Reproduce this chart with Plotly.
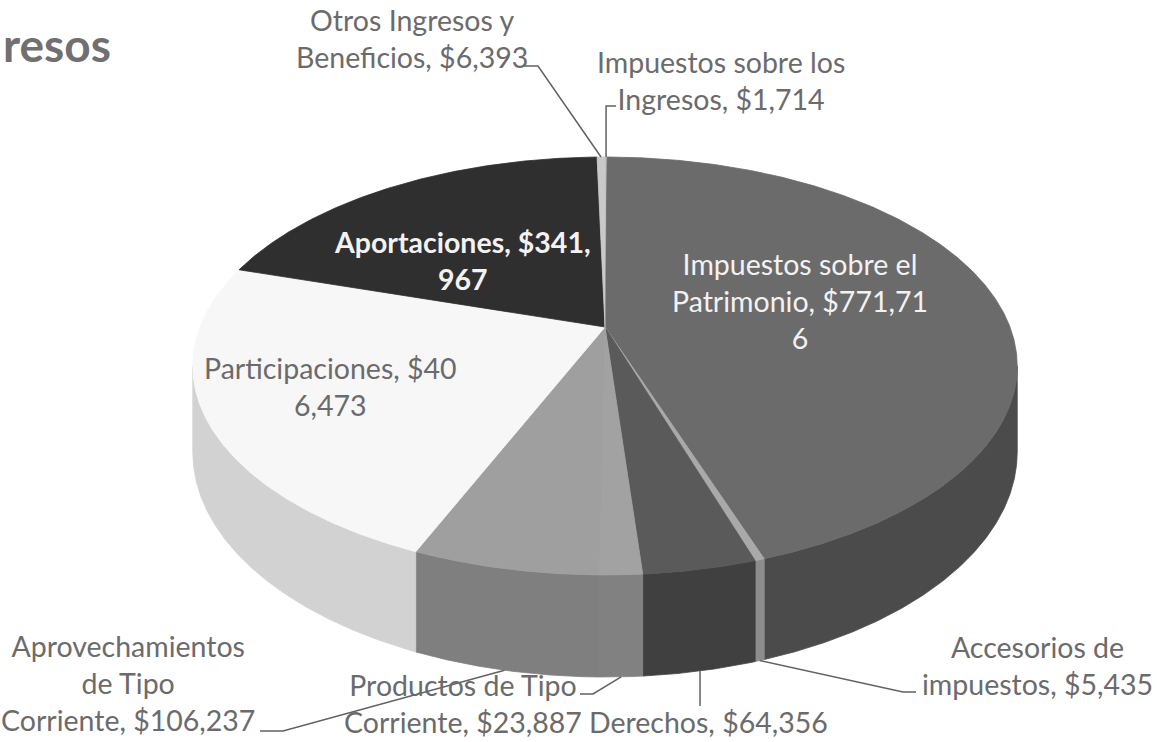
import numpy as np
import plotly.graph_objects as go

# ---- data -------------------------------------------------------------
categories = [
    "Impuestos sobre los Ingresos",
    "Impuestos sobre el Patrimonio",
    "Accesorios de impuestos",
    "Derechos",
    "Productos de Tipo Corriente",
    "Aprovechamientos de Tipo Corriente",
    "Participaciones",
    "Aportaciones",
    "Otros Ingresos y Beneficios",
]
values = [1714, 771716, 5435, 64356, 23887, 106237, 406473, 341967, 6393]

# characters per printed line for each data label
label_line_lengths = [
    [19, 16],
    [18, 19, 1],
    [13, 17],
    [17],
    [17, 18],
    [16, 7, 19],
    [20, 5],
    [19, 3],
    [16, 18],
]

heading = "resos"

# ---- styling ------------------------------------------------------------
top_colors = ["#bdbdbd", "#6b6b6b", "#a9a9a9", "#5a5a5a", "#a2a2a2",
              "#9f9f9f", "#f7f7f7", "#2f2f2f", "#c9c9c9"]
side_colors = ["#a0a0a0", "#4b4b4b", "#8c8c8c", "#404040", "#818181",
               "#7f7f7f", "#d2d2d2", "#222222", "#ababab"]
label_pos = [(721, 80), (800, 301), (1037, 665), (708, 722), (463, 703),
             (128, 683), (330, 386), (462, 260), (412, 38)]
label_colors = ["#6b6b6b", "#f2f2f2", "#6b6b6b", "#6b6b6b", "#6b6b6b",
                "#6b6b6b", "#6b6b6b", "#f2f2f2", "#6b6b6b"]
label_bold = [False, False, False, False, False, False, False, True, False]
FONT = "Lato, 'Open Sans', sans-serif"
FS = 28.5

# perspective pie geometry (screen pixels)
CX, CY = 605.0, 327.0      # projected centre of the top face
A, B = 405.0, 201.7        # horizontal / vertical radii
K = 0.1866                 # perspective foreshortening
D0 = 83.0                  # wall height at the sides


def project(phi_deg, bottom=False):
    phi = np.radians(phi_deg)
    u, v = np.sin(phi), np.cos(phi)
    d = 1.0 + K * v
    x = CX + A * u / d
    y = CY - B * v / d
    if bottom:
        y = y + D0 / d
    return x, y


def split_label(text, lengths):
    lines, pos = [], 0
    for n in lengths:
        lines.append(text[pos:pos + n])
        pos += n
        while pos < len(text) and text[pos] == " ":
            pos += 1
    return "<br>".join(lines)


total = float(sum(values))
ends = np.cumsum(values) / total * 360.0
starts = np.concatenate([[0.0], ends[:-1]])

# visible (front-facing) wall interval
grid = np.linspace(0, 360, 3601)
facing = []
for g in grid:
    x1, y1 = project(g)
    x2, y2 = project(g + 0.1)
    x3, y3 = project(g + 0.1, True)
    x4, y4 = project(g, True)
    area = (x1 * y2 - x2 * y1) + (x2 * y3 - x3 * y2) + (x3 * y4 - x4 * y3) + (x4 * y1 - x1 * y4)
    facing.append(area)
facing = np.array(facing)
front_sign = np.sign(facing[np.argmin(np.abs(grid - 180))])
front = grid[np.sign(facing) == front_sign]
FRONT_LO, FRONT_HI = front.min(), front.max()

fig = go.Figure()

# side walls
for i in range(len(values)):
    lo = max(starts[i], FRONT_LO)
    hi = min(ends[i], FRONT_HI)
    if hi <= lo:
        continue
    angs = np.linspace(lo, hi, max(3, int((hi - lo) * 4) + 2))
    tx, ty = project(angs)
    bx, by = project(angs[::-1], True)
    xs = np.concatenate([tx, bx, tx[:1]])
    ys = np.concatenate([ty, by, ty[:1]])
    fig.add_trace(go.Scatter(x=xs, y=ys, mode="lines", fill="toself",
                             fillcolor=side_colors[i],
                             line=dict(color=side_colors[i], width=0.8),
                             hoverinfo="skip", showlegend=False))

# top faces
for i in range(len(values)):
    angs = np.linspace(starts[i], ends[i], max(3, int((ends[i] - starts[i]) * 4) + 2))
    ax_, ay_ = project(angs)
    xs = np.concatenate([[CX], ax_, [CX]])
    ys = np.concatenate([[CY], ay_, [CY]])
    fig.add_trace(go.Scatter(x=xs, y=ys, mode="lines", fill="toself",
                             fillcolor=top_colors[i],
                             line=dict(color=top_colors[i], width=0.8),
                             hoverinfo="skip", showlegend=False,
                             name=categories[i]))

# leader lines from outside labels to their slices
mid = (starts + ends) / 2.0
leader_color = "#626262"


def leader(points):
    xs = [p[0] for p in points]
    ys = [p[1] for p in points]
    fig.add_trace(go.Scatter(x=xs, y=ys, mode="lines",
                             line=dict(color=leader_color, width=1.5),
                             hoverinfo="skip", showlegend=False))


# index 0: Impuestos sobre los Ingresos (top edge)
px, py = project(mid[0])
leader([(616, 106), (px, 106), (px, py)])
# index 8: Otros Ingresos y Beneficios (top edge)
px, py = project(mid[8])
leader([(524, 66), (538, 66), (px, py)])
# index 2: Accesorios de impuestos
px, py = project(mid[2], True)
leader([(916, 692), (903, 692), (px, py)])
# index 3: Derechos
px, py = project(mid[3], True)
leader([(px, 706), (px, py)])
# index 4: Productos de Tipo Corriente
px, py = project(mid[4], True)
leader([(580, 694), (593, 694), (px, py)])
# index 5: Aprovechamientos de Tipo Corriente
px, py = project(mid[5], True)
leader([(260, 731), (283, 731), (px, py)])

# data labels
annotations = []
for i, (name, v) in enumerate(zip(categories, values)):
    text = split_label(f"{name}, ${v:,}", label_line_lengths[i])
    if label_bold[i]:
        text = f"<b>{text}</b>"
    annotations.append(dict(x=label_pos[i][0], y=label_pos[i][1], xref="x", yref="y",
                            text=text, showarrow=False, align="center",
                            xanchor="center", yanchor="middle",
                            font=dict(family=FONT, size=FS, color=label_colors[i])))

# slide heading
annotations.append(dict(x=1, y=44, xref="x", yref="y",
                        text=f"<b>{heading}</b>", showarrow=False,
                        xanchor="left", yanchor="middle",
                        font=dict(family=FONT, size=46, color="#707070")))

fig.update_layout(
    width=1157, height=742,
    margin=dict(l=0, r=0, t=0, b=0),
    paper_bgcolor="white", plot_bgcolor="white",
    xaxis=dict(range=[0, 1157], visible=False, fixedrange=True),
    yaxis=dict(range=[742, 0], visible=False, fixedrange=True),
    annotations=annotations,
    showlegend=False,
)

fig.write_html("out.html")
